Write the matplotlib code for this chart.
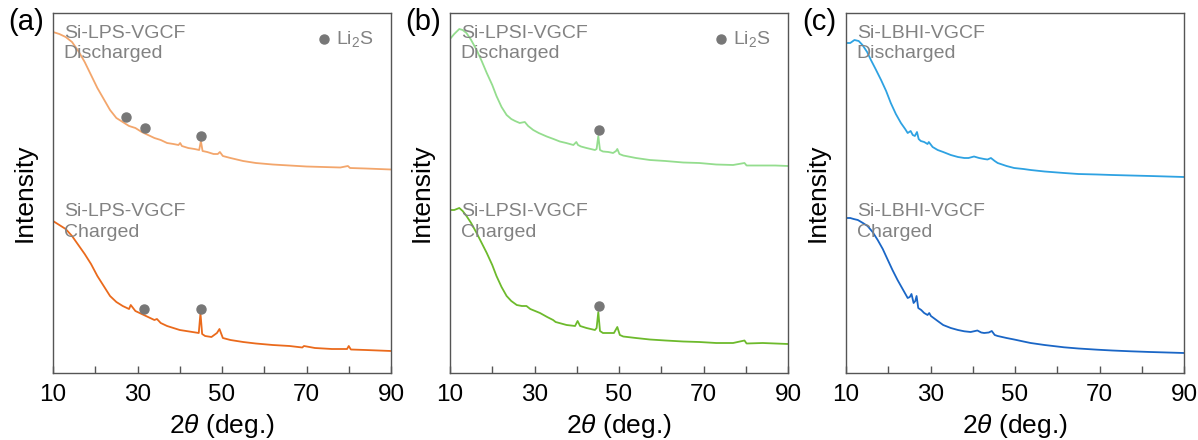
import matplotlib
matplotlib.use("Agg")
import matplotlib.pyplot as plt

plt.rcParams['font.family'] = ['Liberation Sans', 'DejaVu Sans']
plt.rcParams['mathtext.fontset'] = 'custom'
plt.rcParams['mathtext.rm'] = 'Liberation Sans'
plt.rcParams['mathtext.it'] = 'Liberation Sans:italic'

# (a) Si-LPS-VGCF
a_dis_x = [10, 11.5, 13, 14.5, 16, 17.5, 19, 20.5, 22, 23.5, 25, 26.5, 28, 29.5, 31, 32.5, 34, 35.5, 37, 38.5,
           39.7, 40.1, 40.5, 42, 43.5, 44.6, 45.0, 45.4, 46.5, 48, 49.0, 49.5, 50.2, 52, 55, 58, 62, 66, 70, 74,
           78, 79.8, 80.3, 84, 87, 90]
a_dis_y = [341, 339, 336, 331, 322, 311, 298, 285, 274, 263, 255, 251, 247, 245, 241, 238, 235, 233, 230, 229,
           228, 230, 227, 225, 224, 223, 232, 222, 221, 219, 219, 221, 217, 215, 212, 210, 208.5, 207.5, 206.5, 206,
           205.5, 207, 205, 204.5, 204, 203.5]
a_chg_x = [10, 11.5, 13, 14.5, 16, 17.5, 19, 20.5, 22, 23.5, 25, 26.5, 28, 28.4, 29.5, 31, 32.5, 34, 34.6, 35.5,
           37, 38.5, 40, 41.5, 43, 44.5, 44.9, 45.3, 46, 47.5, 48.8, 49.4, 50.2, 52, 55, 58, 62, 66, 69, 69.4,
           72, 76, 79.6, 80.0, 80.5, 84, 87, 90]
a_chg_y = [152, 148, 144, 137, 128, 119, 109, 97, 87, 77, 71, 67, 64, 68, 62, 59, 56, 53, 54, 50,
           47, 45, 43, 42, 41, 40, 60, 39, 37, 36, 40, 44, 35, 33, 31, 29.5, 28, 27, 25.5, 27,
           25, 24, 24, 27, 23.5, 23, 22.5, 22]
a_dis_mark_x = [27.2, 31.7, 45.1]
a_dis_mark_y = [256, 245, 237]
a_chg_mark_x = [31.6, 45.1]
a_chg_mark_y = [64.3, 64.3]

# (b) Si-LPSI-VGCF
b_dis_x = [10, 11, 12.2, 13, 13.9, 15, 16.3, 17.5, 18.7, 20, 21, 22.2, 23.4, 24.5, 25.4, 26.5, 27.7, 28.5, 29.7, 31,
           32.9, 34.5, 36, 37.5, 39.2, 39.9, 40.3, 41, 42.3, 44.3, 44.7, 45.1, 45.5, 46.2, 47.5, 48.6, 49.3, 49.6,
           50.1, 51, 54, 57.3, 61, 65.2, 69, 73, 77, 79.7, 80.2, 84, 87, 90]
b_dis_y = [334, 339, 344, 343, 340, 333, 323, 312, 300, 288, 277, 266, 258, 254, 252, 250, 251, 247, 243, 240,
           236.5, 234, 231.5, 230, 228, 231, 228, 226.5, 225, 223, 224, 237, 223, 221.5, 221, 220, 222, 224,
           219, 217.5, 215, 213, 212, 210.5, 210, 208.5, 208, 210, 207.5, 207.5, 207.5, 207]
b_chg_x = [10, 11, 12.2, 13, 13.9, 15, 16.3, 17.5, 18.7, 20, 21, 22.2, 23.4, 24.5, 25.8, 27, 28.1, 29, 31.3, 33,
           34.4, 35, 37.6, 39.6, 40.2, 40.8, 42.3, 44.3, 44.7, 45.1, 45.5, 46.2, 47.5, 48.8, 49.6, 50.2, 51, 54,
           57.3, 61, 65.2, 69, 73, 77, 79.7, 80.2, 84, 87, 90]
b_chg_y = [163, 163, 165, 162, 157, 150, 140, 130, 120, 108, 97, 86, 77, 72, 68, 67, 67, 64, 60, 56,
           53, 51, 48, 47, 52, 47, 45, 43, 45, 61, 42, 40, 40, 40, 46, 38, 36.5, 35,
           33.5, 32.5, 31.5, 31, 30, 30, 32.5, 29.5, 30, 29.5, 29]
b_dis_mark_x = [45.2]
b_dis_mark_y = [243.3]
b_chg_mark_x = [45.2]
b_chg_mark_y = [67.3]

# (c) Si-LBHI-VGCF
c_dis_x = [10, 11, 12, 13, 13.9, 15, 15.9, 17, 18.3, 19.5, 20.6, 21.8, 23, 24, 24.6, 25.3, 25.8, 26.3, 26.8, 27.2,
           27.7, 28.5, 29.3, 29.6, 30.5, 31.7, 33, 34.8, 36.5, 38, 39, 40.3, 41.5, 42.7, 43.5, 44.3, 45.2, 45.9,
           48, 49.8, 52, 53.7, 57, 61.6, 65, 69.5, 73, 77.4, 82, 86, 90]
c_dis_y = [330, 330, 333, 332, 328, 321, 313, 304, 293, 282, 270, 259, 250, 244, 240, 242, 238, 237, 241, 234,
           232, 231, 229, 231, 226, 223, 221, 218, 216, 215, 215, 216.5, 215, 214, 213.5, 215, 212, 210,
           207, 205, 204, 203, 201.5, 200, 199, 198.5, 198, 197.5, 197, 196.5, 196]
c_chg_x = [10, 11, 11.8, 12.8, 14, 15.1, 16.3, 17.5, 18.7, 19.9, 21, 22.2, 23.4, 24.6, 25.1, 25.5, 26, 26.4, 26.7,
           27.1, 27.8, 28.5, 29.3, 29.7, 30.1, 31.7, 33, 34.8, 36.5, 38, 39.5, 41.1, 42, 42.7, 43.8, 44.5, 45.2,
           45.9, 48, 49.8, 52, 53.7, 57, 61.6, 65, 69.5, 73, 77.4, 82, 86, 90]
c_chg_y = [155, 155, 154, 153, 150, 147, 141, 133, 124, 113, 103, 93, 84, 75, 76, 79, 70, 72, 77,
           65, 63, 60, 58, 60, 57, 52, 48, 45, 43, 41.7, 41, 42.5, 40.5, 40, 40.5, 42, 38,
           37, 35, 33.5, 31.5, 30, 28, 25.7, 24.5, 23.3, 22.5, 21.7, 21, 20.5, 20]

panels = [
    dict(tag="(a)", name="Si-LPS-VGCF", dis=(a_dis_x, a_dis_y), chg=(a_chg_x, a_chg_y),
         c_dis="#F3A66C", c_chg="#EA6A1C", marks=[(a_dis_mark_x, a_dis_mark_y), (a_chg_mark_x, a_chg_mark_y)],
         legend=True, left=53),
    dict(tag="(b)", name="Si-LPSI-VGCF", dis=(b_dis_x, b_dis_y), chg=(b_chg_x, b_chg_y),
         c_dis="#94DD8E", c_chg="#6DBA2C", marks=[(b_dis_mark_x, b_dis_mark_y), (b_chg_mark_x, b_chg_mark_y)],
         legend=True, left=450),
    dict(tag="(c)", name="Si-LBHI-VGCF", dis=(c_dis_x, c_dis_y), chg=(c_chg_x, c_chg_y),
         c_dis="#2EA2E2", c_chg="#1A66C6", marks=[], legend=False, left=846),
]

W, H = 1198, 440
fig = plt.figure(figsize=(W / 100, H / 100), dpi=100)
grey = "#828282"

for p in panels:
    ax = fig.add_axes([p["left"] / W, (H - 373) / H, 338 / W, 360 / H])
    ax.plot(*p["dis"], color=p["c_dis"], lw=1.3)
    ax.plot(*p["chg"], color=p["c_chg"], lw=1.3)
    for mx, my in p["marks"]:
        ax.plot(mx, my, "o", color="#777777", ms=6.5, ls="none")
    ax.set_xlim(10, 90)
    ax.set_ylim(0, 360)
    ax.set_xticks([10, 30, 50, 70, 90])
    ax.set_xticks([20, 40, 60, 80], minor=True)
    ax.tick_params(axis="x", which="both", direction="in", length=5, width=1, color="#555555",
                   labelsize=17.5, pad=8)
    ax.set_yticks([])
    for s in ax.spines.values():
        s.set_color("#555555")
        s.set_linewidth(1.0)
    ax.set_xlabel(r"2$\it{\theta}$ (deg.)", fontsize=19, labelpad=4)
    ax.set_ylabel("Intensity", fontsize=19, labelpad=12)
    ax.text(0.032, 0.968, p["name"] + "\nDischarged", transform=ax.transAxes, va="top", ha="left",
            fontsize=14, color=grey, linespacing=1.3)
    ax.text(0.032, 0.472, p["name"] + "\nCharged", transform=ax.transAxes, va="top", ha="left",
            fontsize=14, color=grey, linespacing=1.3)
    if p["legend"]:
        ax.plot([0.802], [0.928], "o", color="#777777", ms=6.5, transform=ax.transAxes)
        ax.text(0.838, 0.928, r"Li$_2$S", transform=ax.transAxes, va="center", ha="left",
                fontsize=14, color=grey)
    fig.text((p["left"] - 27) / W, 1 - 22 / H, p["tag"], fontsize=21, ha="center", va="center")

fig.savefig("out.png", dpi=100)
